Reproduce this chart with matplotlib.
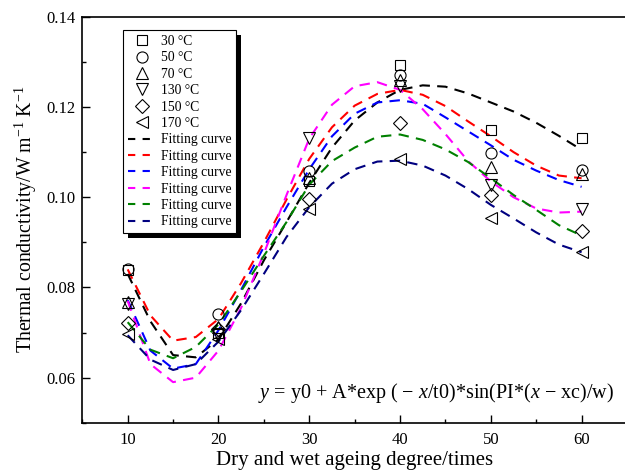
import matplotlib
matplotlib.use("Agg")
from matplotlib import pyplot as plt
from matplotlib.lines import Line2D
from matplotlib.patches import Rectangle
from matplotlib.ticker import MultipleLocator, FormatStrFormatter

plt.rcParams["font.family"] = ["Liberation Serif", "DejaVu Serif"]
plt.rcParams["mathtext.fontset"] = "custom"
plt.rcParams["mathtext.rm"] = "Liberation Serif"
plt.rcParams["mathtext.it"] = "Liberation Serif:italic"

# measured points
ageing = [10, 20, 30, 40, 50, 60]
temps = ["30 °C", "50 °C", "70 °C", "130 °C", "150 °C", "170 °C"]
k_30 = [0.0838, 0.0700, 0.1035, 0.1294, 0.1148, 0.1131]
k_50 = [0.0840, 0.0742, 0.1057, 0.1272, 0.1099, 0.1061]
k_70 = [0.0767, 0.0712, 0.1043, 0.1259, 0.1068, 0.1052]
k_130 = [0.0764, 0.0695, 0.1132, 0.1246, 0.1028, 0.0974]
k_150 = [0.0721, 0.0708, 0.0995, 0.1165, 0.1005, 0.0926]
k_170 = [0.0696, 0.0685, 0.0974, 0.1085, 0.0954, 0.0879]

# fitting curves
fit_x = [10, 12.5, 15, 17.5, 20, 22.5, 25, 27.5, 30, 32.5, 35, 37.5, 40,
         42.5, 45, 47.5, 50, 52.5, 55, 57.5, 60]
fit_30 = [0.0830, 0.0725, 0.0650, 0.0645, 0.0685, 0.0765, 0.0860, 0.0945, 0.1032,
          0.1110, 0.1170, 0.1210, 0.1238, 0.1248, 0.1245, 0.1230, 0.1210, 0.1190,
          0.1165, 0.1136, 0.1105]
fit_50 = [0.0840, 0.0738, 0.0682, 0.0690, 0.0730, 0.0810, 0.0900, 0.0995, 0.1085,
          0.1155, 0.1203, 0.1229, 0.1238, 0.1227, 0.1202, 0.1168, 0.1135, 0.1100,
          0.1070, 0.1048, 0.1042]
fit_70 = [0.0772, 0.0660, 0.0620, 0.0630, 0.0705, 0.0795, 0.0890, 0.0978, 0.1062,
          0.1135, 0.1185, 0.1210, 0.1215, 0.1207, 0.1177, 0.1146, 0.1115, 0.1083,
          0.1059, 0.1038, 0.1023]
fit_130 = [0.0770, 0.0630, 0.0590, 0.0600, 0.0660, 0.0755, 0.0875, 0.1005, 0.1130,
           0.1205, 0.1246, 0.1255, 0.1238, 0.1195, 0.1140, 0.1080, 0.1035, 0.1000,
           0.0975, 0.0966, 0.0968]
fit_150 = [0.0723, 0.0662, 0.0643, 0.0668, 0.0718, 0.0792, 0.0870, 0.0945, 0.1028,
           0.1080, 0.1110, 0.1134, 0.1139, 0.1127, 0.1106, 0.1078, 0.1042, 0.1005,
           0.0972, 0.0938, 0.0915]
fit_170 = [0.0694, 0.0640, 0.0617, 0.0630, 0.0680, 0.0750, 0.0830, 0.0912, 0.0978,
           0.1030, 0.1062, 0.1079, 0.1081, 0.1070, 0.1048, 0.1018, 0.0983, 0.0953,
           0.0922, 0.0895, 0.0878]

measured = [k_30, k_50, k_70, k_130, k_150, k_170]
fits = [fit_30, fit_50, fit_70, fit_130, fit_150, fit_170]
markers = ["s", "o", "^", "v", "D", "<"]
sizes = [7.5, 8, 8.5, 8.5, 7, 8.5]
colors = ["black", "red", "blue", "magenta", "green", "navy"]

fig = plt.figure(figsize=(6.25, 4.75), dpi=100)
ax = fig.add_axes([0.1317, 0.110, 0.8715, 0.8547])

for ys, c in zip(fits, colors):
    ax.plot(fit_x, ys, color=c, lw=1.5, dashes=(5, 3.5), zorder=2)
for ys, m, s in zip(measured, markers, sizes):
    ax.plot(ageing, ys, ls="none", marker=m, ms=s, mfc="none", mec="black",
            mew=0.8, zorder=3)

ax.set_xlim(5, 65)
ax.set_ylim(0.05, 0.14)
ax.xaxis.set_major_locator(MultipleLocator(10))
ax.xaxis.set_minor_locator(MultipleLocator(5))
ax.yaxis.set_major_locator(MultipleLocator(0.02))
ax.yaxis.set_minor_locator(MultipleLocator(0.01))
ax.yaxis.set_major_formatter(FormatStrFormatter("%.2f"))
ax.set_xticks([10, 20, 30, 40, 50, 60])
ax.tick_params(which="both", direction="in", top=False, right=False,
               labelsize=12, width=1)
ax.tick_params(axis="x", which="major", pad=7)
ax.tick_params(axis="y", which="major", pad=5)
ax.tick_params(which="major", length=6)
ax.tick_params(which="minor", length=3)
for sp in ax.spines.values():
    sp.set_linewidth(1.2)

ax.set_xlabel("Dry and wet ageing degree/times", fontsize=15, labelpad=2)
ax.set_ylabel("Thermal conductivity/W m$^{-1}$ K$^{-1}$", fontsize=14.3, labelpad=5)

ax.text(0.3226, 0.06,
        "$y$ = y0 + A*exp ( \u2212 $x$/t0)*sin(PI*($x$ \u2212 xc)/w)",
        transform=ax.transAxes, fontsize=14.5, va="baseline")

handles = [Line2D([], [], ls="none", marker=m, ms=s, mfc="none", mec="black", mew=0.8)
           for m, s in zip(markers, sizes)]
handles += [Line2D([], [], color=c, lw=1.5, dashes=(3.5, 3.5)) for c in colors]
labels = temps + ["Fitting curve"] * 6
leg = ax.legend(handles, labels, loc="upper left", bbox_to_anchor=(0.075, 0.967),
                borderaxespad=0, fontsize=9.8, frameon=True, fancybox=False,
                edgecolor="black", framealpha=1, handlelength=2.0,
                handletextpad=0.4, labelspacing=0.25, borderpad=0.35)
leg.get_frame().set_linewidth(0.8)
leg.set_zorder(6)

# black drop shadow behind the legend box
fig.canvas.draw()
bb = leg.get_frame().get_window_extent()
ax.add_patch(Rectangle((bb.x0 + 5, bb.y0 - 5), bb.width, bb.height,
                       transform=None, facecolor="black", edgecolor="none",
                       zorder=5, clip_on=False))

fig.savefig("out.png", dpi=100)
